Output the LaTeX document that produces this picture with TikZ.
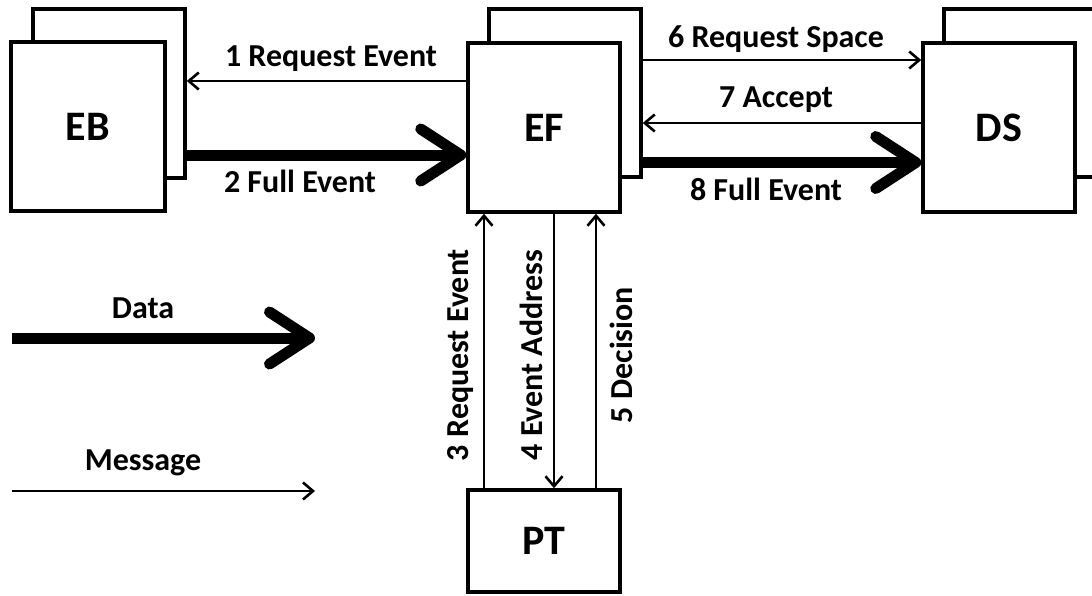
\documentclass[tikz,border=0pt]{standalone}
\usepackage{fontspec}
\setmainfont{Carlito}
\usetikzlibrary{arrows.meta,calc}
\tikzset{
  box/.style={draw, line width=3.5pt, fill=white, minimum width=152pt, minimum height=169pt, inner sep=0pt, font=\fontsize{42}{46}\selectfont\bfseries},
  msg/.style={line width=2.6pt, -{Straight Barb[length=10pt, width=17pt]}},
  dat/.style={line width=11pt, -{Straight Barb[length=40pt, width=52pt, round]}},
  lbl/.style={font=\fontsize{32}{35}\selectfont\bfseries, inner sep=0pt},
}
\begin{document}
\begin{tikzpicture}[x=1pt,y=-1pt]
\useasboundingbox (0,0) rectangle (1092,595);
\clip (0,0) rectangle (1092,595);
% back boxes
\node[box] (EBb) at (109,93.5) {};
\node[box, minimum height=168pt] (EFb) at (565,93) {};
\node[box, minimum height=168pt] (DSb) at (1020,93) {};
% front boxes
\node[box, minimum width=154pt] (EB) at (88,126.5) {EB};
\node[box] (EF) at (544,127.5) {EF};
\node[box] (DS) at (999,127.5) {DS};
\node[box, minimum height=102pt] (PT) at (544,541) {PT};
% horizontal connectors
\draw[msg] ([yshift=46.5pt]EF.west) coordinate (s1) -- (s1 -| EBb.east);
\draw[dat] ([yshift=-61.5pt]EBb.east) coordinate (s2) -- (s2 -| EF.west);
\draw[msg] ([yshift=33pt]EFb.east) coordinate (s6) -- (s6 -| DS.west);
\draw[msg] ([yshift=4.5pt]DS.west) coordinate (s7) -- (s7 -| EFb.east);
\draw[dat] ([yshift=-69.5pt]EFb.east) coordinate (s8) -- (s8 -| DS.west);
% vertical connectors
\draw[msg] ([xshift=-60pt]PT.north) coordinate (s3) -- (s3 |- EF.south);
\draw[msg] ([xshift=10pt]EF.south) coordinate (s4) -- (s4 |- PT.north);
\draw[msg] ([xshift=52pt]PT.north) coordinate (s5) -- (s5 |- EF.south);
% labels
\node[lbl] (l1) at (331,59) {1 Request Event};
\node[lbl] (l2) at (300,181) {2 Full Event};
\node[lbl] (l6) at (776,39) {6 Request Space};
\node[lbl] (l7) at (776,100) {7 Accept};
\node[lbl] (l8) at (766,189) {8 Full Event};
\node[lbl, rotate=90] (l3) at (461,355) {3 Request Event};
\node[lbl, rotate=90] (l4) at (531,355) {4 Event Address};
\node[lbl, rotate=90] (l5) at (621,355) {5 Decision};
% legend
\coordinate (d0) at (12,338);
\coordinate (d1) at (315,338);
\draw[dat] (d0) -- (d1);
\node[lbl] (ld) at (143,308) {Data};
\coordinate (m0) at (12,491);
\coordinate (m1) at (315,491);
\draw[msg] (m0) -- (m1);
\node[lbl] (lm) at (143,463) {Message};
\end{tikzpicture}
\end{document}
